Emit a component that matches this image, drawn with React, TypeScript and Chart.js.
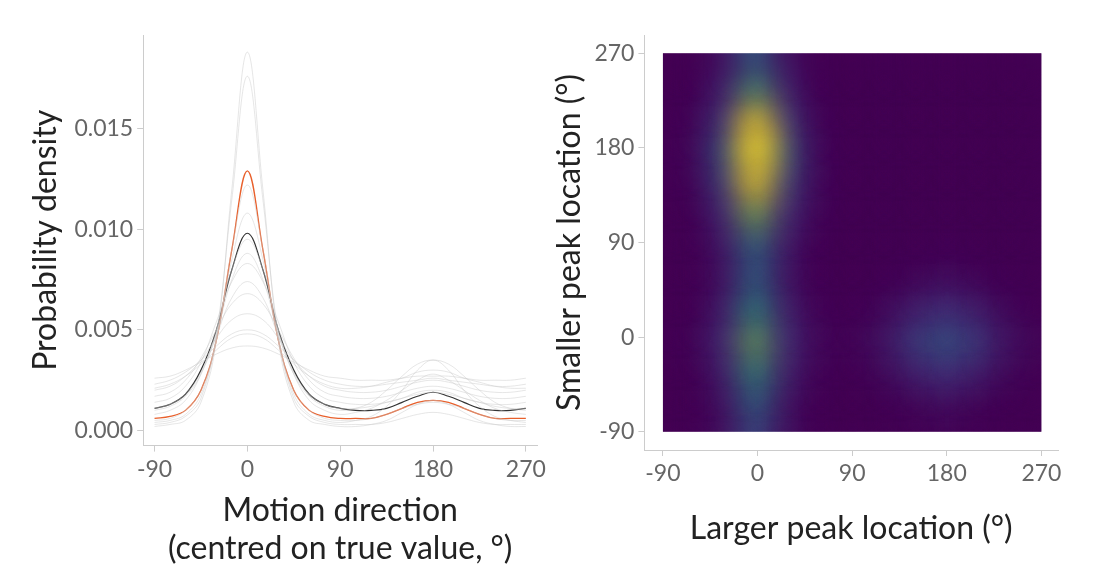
import React, { useEffect, useRef } from "react";
import { Chart, registerables } from "chart.js";
Chart.register(...registerables);

const xs = [-90,-75,-60,-45,-30,-15,0,15,30,45,60,75,90,105,120,135,150,165,180,195,210,225,240,255,270];
const meanCurve = [0.0011,0.0013,0.0018,0.0030,0.0050,0.0080,0.0098,0.0080,0.0050,0.0030,0.0018,0.0013,0.0011,0.0010,0.0010,0.0011,0.0014,0.0017,0.0019,0.0017,0.0014,0.0011,0.0010,0.0010,0.0011];
const highlightCurve = [0.0006,0.0007,0.0010,0.0020,0.0045,0.0090,0.0129,0.0090,0.0045,0.0020,0.0010,0.0007,0.0006,0.0006,0.0006,0.0008,0.0011,0.0014,0.0015,0.0014,0.0011,0.0008,0.0006,0.0006,0.0006];
const greyCurves = [
  [0.0002,0.0003,0.0005,0.0014,0.0045,0.0120,0.0188,0.0120,0.0045,0.0014,0.0005,0.0003,0.0002,0.0002,0.0003,0.0005,0.0009,0.0013,0.0015,0.0013,0.0009,0.0005,0.0003,0.0002,0.0002],
  [0.0003,0.0004,0.0007,0.0016,0.0048,0.0115,0.0176,0.0115,0.0048,0.0016,0.0007,0.0004,0.0003,0.0003,0.0003,0.0004,0.0006,0.0008,0.0009,0.0008,0.0006,0.0004,0.0003,0.0003,0.0003],
  [0.0004,0.0005,0.0008,0.0018,0.0045,0.0090,0.0122,0.0090,0.0045,0.0018,0.0008,0.0005,0.0004,0.0005,0.0007,0.0012,0.0020,0.0030,0.0035,0.0030,0.0020,0.0012,0.0007,0.0005,0.0004],
  [0.0008,0.0010,0.0015,0.0028,0.0050,0.0080,0.0095,0.0080,0.0050,0.0028,0.0015,0.0010,0.0008,0.0009,0.0011,0.0015,0.0020,0.0025,0.0028,0.0025,0.0020,0.0015,0.0011,0.0009,0.0008],
  [0.0014,0.0016,0.0022,0.0034,0.0054,0.0074,0.0083,0.0074,0.0054,0.0034,0.0022,0.0016,0.0014,0.0013,0.0013,0.0014,0.0016,0.0019,0.0020,0.0019,0.0016,0.0014,0.0013,0.0013,0.0014],
  [0.0017,0.0019,0.0025,0.0036,0.0050,0.0063,0.0068,0.0063,0.0050,0.0036,0.0025,0.0019,0.0017,0.0016,0.0016,0.0017,0.0019,0.0021,0.0022,0.0021,0.0019,0.0017,0.0016,0.0016,0.0017],
  [0.0020,0.0022,0.0027,0.0035,0.0046,0.0055,0.0058,0.0055,0.0046,0.0035,0.0027,0.0022,0.0020,0.0019,0.0019,0.0020,0.0022,0.0024,0.0025,0.0024,0.0022,0.0020,0.0019,0.0019,0.0020],
  [0.0023,0.0025,0.0029,0.0035,0.0042,0.0048,0.0050,0.0048,0.0042,0.0035,0.0029,0.0025,0.0023,0.0022,0.0022,0.0023,0.0024,0.0025,0.0026,0.0025,0.0024,0.0023,0.0022,0.0022,0.0023],
  [0.0026,0.0027,0.0030,0.0034,0.0038,0.0041,0.0042,0.0041,0.0038,0.0034,0.0030,0.0027,0.0026,0.0025,0.0025,0.0025,0.0026,0.0027,0.0027,0.0027,0.0026,0.0025,0.0025,0.0025,0.0026],
  [0.0010,0.0012,0.0017,0.0028,0.0048,0.0075,0.0088,0.0075,0.0048,0.0028,0.0017,0.0012,0.0010,0.0011,0.0014,0.0020,0.0027,0.0033,0.0035,0.0033,0.0027,0.0020,0.0014,0.0011,0.0010],
  [0.0005,0.0006,0.0010,0.0020,0.0045,0.0085,0.0108,0.0085,0.0045,0.0020,0.0010,0.0006,0.0005,0.0005,0.0006,0.0008,0.0011,0.0013,0.0014,0.0013,0.0011,0.0008,0.0006,0.0005,0.0005],
  [0.0021,0.0023,0.0027,0.0033,0.0040,0.0046,0.0048,0.0046,0.0040,0.0033,0.0027,0.0023,0.0021,0.0021,0.0022,0.0024,0.0026,0.0029,0.0030,0.0029,0.0026,0.0024,0.0022,0.0021,0.0021],
  [0.0011,0.0013,0.0018,0.0029,0.0047,0.0066,0.0074,0.0066,0.0047,0.0029,0.0018,0.0013,0.0011,0.0011,0.0012,0.0014,0.0016,0.0018,0.0019,0.0018,0.0016,0.0014,0.0012,0.0011,0.0011],
];
const leftTicks = [-90, 0, 90, 180, 270];
const yTicksLeft = [0, 0.005, 0.01, 0.015];

const gridX = [-90,-60,-30,0,30,60,90,120,150,180,210,240,270];
const gridY = [-90,-60,-30,0,30,60,90,120,150,180,210,240,270];
const density = [
  [0,0,0.06,0.3,0.06,0,0,0,0,0.02,0,0,0],
  [0,0,0.08,0.42,0.08,0,0,0,0.03,0.06,0.03,0,0],
  [0,0,0.13,0.62,0.13,0.02,0,0.04,0.13,0.2,0.13,0.04,0],
  [0,0.02,0.18,0.78,0.18,0.03,0.02,0.08,0.25,0.36,0.25,0.08,0.02],
  [0,0,0.13,0.6,0.13,0.02,0,0.04,0.13,0.2,0.13,0.04,0],
  [0,0,0.08,0.42,0.08,0,0,0,0.03,0.06,0.03,0,0],
  [0,0,0.1,0.45,0.1,0,0,0,0,0.01,0,0,0],
  [0,0,0.17,0.8,0.17,0.02,0,0,0,0,0,0,0],
  [0,0.02,0.28,1.3,0.28,0.03,0,0,0,0,0,0,0],
  [0,0.03,0.36,1.8,0.36,0.03,0,0,0,0,0,0,0],
  [0,0.02,0.25,1.25,0.25,0.02,0,0,0,0,0,0,0],
  [0,0,0.14,0.66,0.14,0,0,0,0,0,0,0,0],
  [0,0,0.07,0.38,0.07,0,0,0,0,0,0,0,0],
];

const FONT = "Lato, 'Open Sans', sans-serif";
const viridisStops = [[68,1,84],[65,68,135],[42,120,142],[34,168,132],[122,209,81],[253,231,37]];
function viridis(t: number) {
  const p = Math.max(0, Math.min(t, 1)) * (viridisStops.length - 1);
  const i = Math.min(Math.floor(p), viridisStops.length - 2);
  const f = p - i;
  const a = viridisStops[i], b = viridisStops[i + 1];
  return `rgb(${a.map((v, k) => Math.round(v + (b[k] - v) * f)).join(",")})`;
}

const axisCommon = (min: number, max: number, ticks: number[], fmt: (v: number) => string, title: any) => ({
  type: "linear" as const,
  min, max,
  afterBuildTicks: (ax: any) => { ax.ticks = ticks.map((v) => ({ value: v })); },
  ticks: { color: "#666", font: { family: FONT, size: 23 }, callback: (v: any) => fmt(Number(v)), padding: 4 },
  grid: { drawOnChartArea: false, color: "#ccc", tickLength: 6 },
  border: { color: "#ccc" },
  title,
});

function LeftChart() {
  const ref = useRef<HTMLCanvasElement>(null);
  useEffect(() => {
    const ds: any[] = greyCurves.map((c) => ({
      data: xs.map((x, i) => ({ x, y: c[i] })), borderColor: "rgba(200,200,200,0.45)", borderWidth: 1, pointRadius: 0, tension: 0.4,
    }));
    ds.push({ data: xs.map((x, i) => ({ x, y: highlightCurve[i] })), borderColor: "#e8602c", borderWidth: 1.3, pointRadius: 0, tension: 0.4 });
    ds.push({ data: xs.map((x, i) => ({ x, y: meanCurve[i] })), borderColor: "#333", borderWidth: 1.2, pointRadius: 0, tension: 0.4 });
    const ch = new Chart(ref.current!, {
      type: "line",
      data: { datasets: ds },
      options: {
        animation: false, responsive: false,
        layout: { padding: { left: 22, top: 35, right: 5, bottom: 10 } },
        plugins: { legend: { display: false }, tooltip: { enabled: false } },
        scales: {
          x: axisCommon(-101, 281, leftTicks, (v) => String(v), {
            display: true, text: ["Motion direction", "(centred on true value, °)"], color: "#222", font: { family: FONT, size: 32 }, padding: { top: 4 },
          }),
          y: axisCommon(-0.00075, 0.01965, yTicksLeft, (v) => v.toFixed(3), {
            display: true, text: "Probability density", color: "#222", font: { family: FONT, size: 32 }, padding: { bottom: 6 },
          }),
        },
      },
    });
    return () => ch.destroy();
  }, []);
  return <canvas ref={ref} width={550} height={582} />;
}

const heatPlugin = {
  id: "heat",
  beforeDatasetsDraw(chart: any) {
    const { ctx, scales } = chart;
    const xs_ = scales.x, ys_ = scales.y;
    const l = xs_.getPixelForValue(-90), r = xs_.getPixelForValue(270);
    const t = ys_.getPixelForValue(270), b = ys_.getPixelForValue(-90);
    ctx.save();
    ctx.beginPath(); ctx.rect(l, t, r - l, b - t); ctx.clip();
    ctx.fillStyle = viridis(0); ctx.fillRect(l, t, r - l, b - t);
    ctx.filter = "blur(16px)";
    const dx = Math.abs(xs_.getPixelForValue(30) - xs_.getPixelForValue(0));
    const dy = Math.abs(ys_.getPixelForValue(0) - ys_.getPixelForValue(30));
    density.forEach((row, j) => row.forEach((v, i) => {
      const cx = xs_.getPixelForValue(gridX[i]), cy = ys_.getPixelForValue(gridY[j]);
      let x0 = cx - dx / 2, x1 = cx + dx / 2, y0 = cy - dy / 2, y1 = cy + dy / 2;
      if (i === 0) x0 -= 50; if (i === gridX.length - 1) x1 += 50;
      if (j === 0) y1 += 50; if (j === gridY.length - 1) y0 -= 50;
      ctx.fillStyle = viridis(v);
      ctx.fillRect(x0, y0, x1 - x0 + 0.5, y1 - y0 + 0.5);
    }));
    density.forEach((row, j) => row.forEach((v, i) => {
      if (v <= 1) return;
      const cx = xs_.getPixelForValue(gridX[i]), cy = ys_.getPixelForValue(gridY[j]);
      ctx.globalAlpha = Math.min(1, v - 1);
      ctx.fillStyle = viridis(1);
      ctx.fillRect(cx - dx / 2, cy - dy / 2, dx, dy);
    }));
    ctx.restore();
  },
};

function RightChart() {
  const ref = useRef<HTMLCanvasElement>(null);
  useEffect(() => {
    const pts: any[] = [];
    gridY.forEach((y) => gridX.forEach((x) => pts.push({ x, y })));
    const ch = new Chart(ref.current!, {
      type: "scatter",
      data: { datasets: [{ data: pts, pointRadius: 0 }] },
      plugins: [heatPlugin],
      options: {
        animation: false, responsive: false,
        layout: { padding: { left: 0, top: 35, right: 37, bottom: 30 } },
        plugins: { legend: { display: false }, tooltip: { enabled: false } },
        scales: {
          x: axisCommon(-107.6, 285.8, leftTicks, (v) => String(v), {
            display: true, text: "Larger peak location (°)", color: "#222", font: { family: FONT, size: 32 }, padding: { top: 18 },
          }),
          y: axisCommon(-107.4, 287.4, leftTicks, (v) => String(v), {
            display: true, text: "Smaller peak location (°)", color: "#222", font: { family: FONT, size: 32 }, padding: { bottom: 2 },
          }),
        },
      },
    });
    return () => ch.destroy();
  }, []);
  return <canvas ref={ref} width={549} height={582} />;
}

export default function App() {
  return (
    <div style={{ position: "fixed", left: 0, top: 0, width: 1099, height: 582, background: "#fff" }}>
      <div style={{ position: "absolute", left: 0, top: 0 }}><LeftChart /></div>
      <div style={{ position: "absolute", left: 546, top: 0 }}><RightChart /></div>
    </div>
  );
}
